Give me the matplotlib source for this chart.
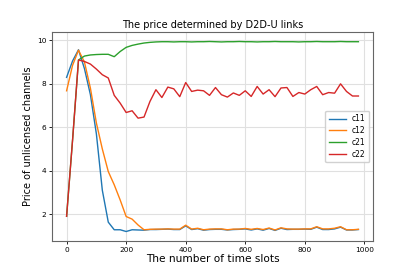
import matplotlib
matplotlib.use("Agg")
import matplotlib.pyplot as plt

# time slots 0..980 step 20
slots = list(range(0, 1000, 20))

c11 = [8.30, 9.05, 9.57, 8.70, 7.50, 5.70, 3.10, 1.63, 1.28, 1.28, 1.20, 1.28, 1.27,
       1.26, 1.29, 1.29, 1.30, 1.31, 1.29, 1.29, 1.46, 1.29, 1.33, 1.26, 1.29, 1.30,
       1.30, 1.27, 1.29, 1.30, 1.32, 1.27, 1.32, 1.26, 1.34, 1.25, 1.35, 1.29, 1.30,
       1.30, 1.31, 1.30, 1.40, 1.29, 1.29, 1.32, 1.40, 1.27, 1.27, 1.29]
c12 = [7.68, 8.85, 9.55, 9.00, 7.80, 6.20, 5.00, 3.96, 3.35, 2.65, 1.89, 1.77, 1.50,
       1.28, 1.30, 1.31, 1.31, 1.32, 1.31, 1.31, 1.49, 1.31, 1.35, 1.28, 1.31, 1.32,
       1.32, 1.28, 1.31, 1.31, 1.34, 1.30, 1.34, 1.29, 1.36, 1.27, 1.37, 1.32, 1.31,
       1.31, 1.32, 1.32, 1.42, 1.32, 1.32, 1.35, 1.42, 1.28, 1.28, 1.30]
c21 = [1.90, 5.40, 9.10, 9.28, 9.33, 9.35, 9.36, 9.36, 9.25, 9.49, 9.68, 9.77, 9.83,
       9.88, 9.91, 9.93, 9.94, 9.94, 9.93, 9.94, 9.94, 9.93, 9.94, 9.94, 9.95, 9.94,
       9.93, 9.94, 9.94, 9.95, 9.94, 9.94, 9.93, 9.94, 9.94, 9.95, 9.94, 9.94, 9.94,
       9.93, 9.94, 9.94, 9.95, 9.94, 9.94, 9.94, 9.95, 9.94, 9.94, 9.94]
c22 = [1.90, 5.40, 9.10, 9.03, 8.91, 8.68, 8.42, 8.27, 7.47, 7.11, 6.68, 6.76, 6.42,
       6.47, 7.19, 7.73, 7.37, 7.85, 7.77, 7.41, 8.06, 7.65, 7.71, 7.68, 7.47, 7.83,
       7.50, 7.39, 7.58, 7.47, 7.68, 7.42, 7.88, 7.53, 7.73, 7.41, 7.81, 7.83, 7.42,
       7.60, 7.53, 7.73, 7.88, 7.50, 7.60, 7.57, 8.00, 7.65, 7.44, 7.44]

series = [("c11", c11, "#1f77b4"), ("c12", c12, "#ff7f0e"),
          ("c21", c21, "#2ca02c"), ("c22", c22, "#d62728")]

fig = plt.figure(figsize=(4.15, 2.71), dpi=100)
ax = fig.add_axes([52 / 415, 30 / 271, 321 / 415, 209 / 271])

for name, vals, col in series:
    ax.plot(slots, vals, color=col, lw=1.0, label=name)

ax.set_title("The price determined by D2D-U links", fontsize=7, pad=3)
ax.set_xlabel("The number of time slots", fontsize=7.6, labelpad=1)
ax.set_ylabel("Price of unlicensed channels", fontsize=7, labelpad=3)
ax.set_xticks([0, 200, 400, 600, 800, 1000])
ax.set_yticks([2, 4, 6, 8, 10])
ax.tick_params(labelsize=5.3, length=2.5, width=0.6, pad=1.5)
ax.grid(True, color="#e0e0e0", lw=0.8)
for s in ax.spines.values():
    s.set_color("#666666")
    s.set_linewidth(0.8)
ax.legend(loc="center right", fontsize=5.5, handlelength=2.2, labelspacing=0.35,
          borderpad=0.5, framealpha=0.9)

fig.savefig("out.png", dpi=100)
